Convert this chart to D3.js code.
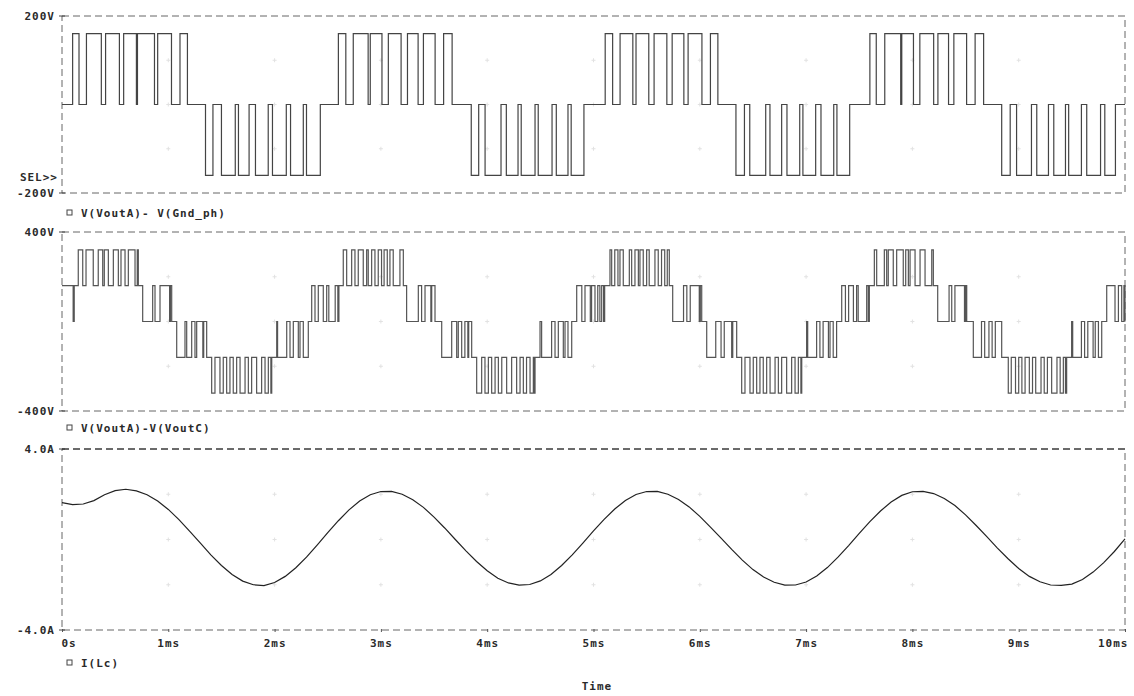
<!DOCTYPE html>
<html>
<head>
<meta charset="utf-8">
<script src="https://cdn.jsdelivr.net/npm/d3@7"></script>
<style>
body { margin: 0; background: #fff; }
text { font-family: "DejaVu Sans Mono", monospace; font-weight: bold; font-size: 11px; fill: #2a2a2a; letter-spacing: 1px; }
</style>
</head>
<body>
<svg id="chart" width="1134" height="696"></svg>
<script>
// time axis, ms
var timeTicks = [0, 1, 2, 3, 4, 5, 6, 7, 8, 9, 10];
var timeLabels = ["0s", "1ms", "2ms", "3ms", "4ms", "5ms", "6ms", "7ms", "8ms", "9ms", "10ms"];

// V(VoutA)- V(Gnd_ph): 0V between pulses, [start, end] ms
var phaseLevel = 160;
var phaseHighPulses = [
    [0.10, 0.16], [0.23, 0.37], [0.41, 0.54], [0.58, 0.70], [0.71, 0.87], [0.90, 1.03], [1.11, 1.18],
    [2.60, 2.67], [2.74, 2.88], [2.90, 3.01], [3.07, 3.19], [3.25, 3.35], [3.40, 3.51], [3.59, 3.67],
    [5.11, 5.18], [5.25, 5.37], [5.40, 5.52], [5.57, 5.69], [5.74, 5.85], [5.89, 6.02], [6.10, 6.17],
    [7.60, 7.66], [7.74, 7.89], [7.90, 8.01], [8.07, 8.20], [8.24, 8.34], [8.39, 8.51], [8.59, 8.67]
];
var phaseLowPulses = [
    [1.35, 1.42], [1.50, 1.63], [1.66, 1.76], [1.82, 1.94], [1.98, 2.11], [2.15, 2.27], [2.30, 2.43],
    [3.85, 3.92], [3.98, 4.13], [4.18, 4.29], [4.32, 4.45], [4.48, 4.61], [4.65, 4.76], [4.79, 4.91],
    [6.34, 6.42], [6.47, 6.62], [6.66, 6.77], [6.82, 6.94], [6.97, 7.09], [7.14, 7.26], [7.29, 7.41],
    [8.84, 8.92], [8.98, 9.12], [9.17, 9.28], [9.33, 9.44], [9.47, 9.59], [9.64, 9.77], [9.81, 9.91]
];

// V(VoutA)-V(VoutC): resting level [t, V] and pulses [t0, t1, V]
var lineSteps = [
    [0, 160], [1.032, 0], [1.361, -160], [2.317, 0], [2.57, 160],
    [3.509, 0], [3.854, -160], [4.795, 0], [5.077, 160],
    [6.018, 0], [6.347, -160], [7.287, 0], [7.57, 160],
    [8.511, 0], [8.840, -160], [9.781, 0]
];
var linePulses = [
    [0.105, 0.115, 0],
    [0.153, 0.195, 320], [0.226, 0.294, 320], [0.341, 0.383, 320], [0.398, 0.436, 320], [0.483, 0.530, 320],
    [0.555, 0.593, 320], [0.624, 0.687, 320], [0.708, 0.718, 320],
    [0.759, 0.853, 0], [0.875, 0.922, 0], [1.012, 1.020, 0],
    [1.079, 1.157, -160], [1.173, 1.220, -160], [1.251, 1.267, -160], [1.325, 1.333, -160],
    [1.408, 1.439, -320], [1.486, 1.517, -320], [1.549, 1.580, -320], [1.611, 1.643, -320], [1.675, 1.722, -320],
    [1.753, 1.784, -320], [1.831, 1.878, -320], [1.910, 1.941, -320], [1.965, 1.973, -320],
    [2.020, 2.028, 0], [2.114, 2.145, 0], [2.176, 2.223, 0], [2.239, 2.270, 0],
    [2.349, 2.380, 160], [2.411, 2.458, 160], [2.490, 2.510, 160],
    [2.595, 2.605, 0],
    [2.646, 2.678, 320], [2.725, 2.756, 320], [2.787, 2.834, 320], [2.866, 2.881, 320], [2.913, 2.944, 320],
    [2.975, 3.006, 320], [3.030, 3.060, 320], [3.085, 3.116, 320], [3.179, 3.211, 320],
    [3.242, 3.352, 0], [3.383, 3.415, 0], [3.470, 3.478, 0],
    [3.572, 3.666, -160], [3.713, 3.728, -160], [3.760, 3.790, -160], [3.818, 3.826, -160],
    [3.901, 3.948, -320], [3.979, 4.011, -320], [4.042, 4.074, -320], [4.105, 4.137, -320], [4.183, 4.230, -320],
    [4.277, 4.309, -320], [4.340, 4.370, -320], [4.403, 4.434, -320], [4.445, 4.450, -320],
    [4.497, 4.512, 0], [4.606, 4.638, 0], [4.669, 4.716, 0], [4.732, 4.760, 0],
    [4.842, 4.890, 160], [4.920, 4.970, 160], [4.982, 5.014, 160], [5.040, 5.060, 160],
    [5.095, 5.105, 0],
    [5.155, 5.171, 320], [5.200, 5.230, 320], [5.249, 5.280, 320], [5.337, 5.359, 320], [5.390, 5.422, 320],
    [5.437, 5.468, 320], [5.500, 5.524, 320], [5.578, 5.609, 320], [5.640, 5.670, 320], [5.694, 5.713, 320],
    [5.745, 5.847, 0], [5.878, 5.910, 0], [5.995, 6.005, 0],
    [6.065, 6.150, -160], [6.200, 6.230, -160], [6.300, 6.310, -160],
    [6.394, 6.425, -320], [6.472, 6.503, -320], [6.535, 6.566, -320], [6.597, 6.629, -320], [6.661, 6.708, -320],
    [6.739, 6.770, -320], [6.817, 6.864, -320], [6.896, 6.927, -320], [6.951, 6.959, -320],
    [7.005, 7.015, 0], [7.099, 7.130, 0], [7.160, 7.210, 0], [7.225, 7.255, 0],
    [7.335, 7.370, 160], [7.400, 7.445, 160], [7.475, 7.490, 160],
    [7.585, 7.595, 0],
    [7.642, 7.664, 320], [7.736, 7.758, 320], [7.773, 7.820, 320], [7.852, 7.914, 320], [7.937, 7.962, 320],
    [7.978, 8.025, 320], [8.072, 8.119, 320], [8.182, 8.197, 320],
    [8.238, 8.345, 0], [8.370, 8.400, 0], [8.490, 8.500, 0],
    [8.573, 8.650, -160], [8.680, 8.720, -160], [8.750, 8.780, -160],
    [8.902, 8.930, -320], [8.970, 9.000, -320], [9.030, 9.060, -320], [9.100, 9.130, -320], [9.160, 9.210, -320],
    [9.240, 9.270, -320], [9.310, 9.360, -320], [9.390, 9.420, -320], [9.440, 9.451, -320],
    [9.498, 9.508, 0], [9.590, 9.620, 0], [9.650, 9.700, 0], [9.720, 9.750, 0],
    [9.828, 9.906, 160], [9.938, 9.969, 160], [9.990, 10.0, 160]
];

// I(Lc), [t ms, A]
var currentPoints = [
    [0.0, 1.63], [0.1, 1.54], [0.2, 1.57], [0.3, 1.72], [0.4, 1.98], [0.5, 2.16], [0.6, 2.22], [0.7, 2.15],
    [0.8, 1.98], [0.9, 1.70], [1.0, 1.33], [1.1, 0.88], [1.2, 0.37], [1.3, -0.15], [1.4, -0.68], [1.5, -1.15],
    [1.6, -1.55], [1.7, -1.84], [1.8, -2.00], [1.9, -2.04], [2.0, -1.90], [2.1, -1.63], [2.2, -1.25], [2.3, -0.78],
    [2.4, -0.25], [2.5, 0.30], [2.6, 0.83], [2.7, 1.31], [2.8, 1.70], [2.9, 1.98], [3.0, 2.12], [3.1, 2.13],
    [3.2, 2.00], [3.3, 1.76], [3.4, 1.42], [3.5, 0.99], [3.6, 0.51], [3.7, 0.00], [3.8, -0.50], [3.9, -0.97],
    [4.0, -1.38], [4.1, -1.71], [4.2, -1.92], [4.3, -2.02], [4.4, -1.99], [4.5, -1.83], [4.6, -1.55], [4.7, -1.15],
    [4.8, -0.68], [4.9, -0.16], [5.0, 0.38], [5.1, 0.89], [5.2, 1.35], [5.3, 1.72], [5.4, 1.99], [5.5, 2.12],
    [5.6, 2.13], [5.7, 2.00], [5.8, 1.77], [5.9, 1.44], [6.0, 1.02], [6.1, 0.55], [6.2, 0.06], [6.3, -0.44],
    [6.4, -0.91], [6.5, -1.33], [6.6, -1.66], [6.7, -1.89], [6.8, -2.02], [6.9, -2.01], [7.0, -1.88], [7.1, -1.61],
    [7.2, -1.24], [7.3, -0.78], [7.4, -0.27], [7.5, 0.27], [7.6, 0.79], [7.7, 1.26], [7.8, 1.66], [7.9, 1.95],
    [8.0, 2.11], [8.1, 2.13], [8.2, 2.03], [8.3, 1.81], [8.4, 1.50], [8.5, 1.09], [8.6, 0.62], [8.7, 0.13],
    [8.8, -0.38], [8.9, -0.85], [9.0, -1.28], [9.1, -1.63], [9.2, -1.87], [9.3, -2.01], [9.4, -2.03], [9.5, -1.97],
    [9.6, -1.77], [9.7, -1.44], [9.8, -1.02], [9.9, -0.53], [10.0, 0.03]
];

var svg = d3.select("#chart");

var x = d3.scaleLinear().domain([0, 10]).range([62, 1125]);

var panels = [
    {top: 16, bottom: 193, max: 200, grid: [100, 0, -100], fmt: function(v) { return v + "V"; },
        legend: "V(VoutA)- V(Gnd_ph)", legendY: 213, frame: "#666"},
    {top: 232, bottom: 411, max: 400, grid: [200, 0, -200], fmt: function(v) { return v + "V"; },
        legend: "V(VoutA)-V(VoutC)", legendY: 428, frame: "#666"},
    {top: 449, bottom: 630, max: 4, grid: [2, 0, -2], fmt: function(v) { return v.toFixed(1) + "A"; },
        legend: "I(Lc)", legendY: 663, frame: "#666"}
];

panels.forEach(function(p) {
    p.y = d3.scaleLinear().domain([-p.max, p.max]).range([p.bottom, p.top]);
});

// build a step series from resting levels + pulses
function stepSeries(steps, pulses) {
    var times = steps.map(function(s) { return s[0]; });
    pulses.forEach(function(q) { times.push(q[0]); times.push(q[1]); });
    times.push(10);
    times = Array.from(new Set(times)).sort(function(a, b) { return a - b; });
    return times.map(function(t) {
        var v = 0;
        steps.forEach(function(s) { if (s[0] <= t) v = s[1]; });
        pulses.forEach(function(q) { if (t >= q[0] && t < q[1]) v = q[2]; });
        return [t, v];
    });
}

var phasePulses = phaseHighPulses.map(function(d) { return [d[0], d[1], phaseLevel]; })
    .concat(phaseLowPulses.map(function(d) { return [d[0], d[1], -phaseLevel]; }));
var phaseSeries = stepSeries([[0, 0]], phasePulses);
var lineSeries = stepSeries(lineSteps, linePulses);

// frames, grid marks, y labels, legends
panels.forEach(function(p, i) {
    var g = svg.append("g");

    timeTicks.slice(1, -1).forEach(function(t) {
        p.grid.forEach(function(v) {
            g.append("path")
                .attr("d", "M" + (x(t) - 2) + "," + p.y(v) + "h4M" + x(t) + "," + (p.y(v) - 2) + "v4")
                .attr("stroke", "#e2e2e2")
                .attr("stroke-width", 1);
        });
    });

    g.append("rect")
        .attr("x", x(0))
        .attr("y", p.top)
        .attr("width", x(10) - x(0))
        .attr("height", p.bottom - p.top)
        .attr("fill", "none")
        .attr("stroke", p.frame)
        .attr("stroke-width", 1)
        .attr("stroke-dasharray", "7,4");

    [p.max, -p.max].forEach(function(v) {
        g.append("text")
            .attr("x", 55)
            .attr("y", p.y(v) + 4)
            .attr("text-anchor", "end")
            .text(p.fmt(v));
        g.append("path")
            .attr("d", "M" + (x(0) - 3) + "," + p.y(v) + "h6")
            .attr("stroke", "#444");
    });

    g.append("rect")
        .attr("x", 67)
        .attr("y", p.legendY - 3)
        .attr("width", 5)
        .attr("height", 5)
        .attr("fill", "none")
        .attr("stroke", "#444");
    g.append("text")
        .attr("x", 81)
        .attr("y", p.legendY + 4)
        .text(p.legend);
});

// current panel top edge is drawn darker in the original
svg.append("line")
    .attr("x1", x(0)).attr("x2", x(10))
    .attr("y1", panels[2].top).attr("y2", panels[2].top)
    .attr("stroke", "#222")
    .attr("stroke-dasharray", "7,4");

svg.append("text")
    .attr("x", 58)
    .attr("y", 181)
    .attr("text-anchor", "end")
    .text("SEL>>");

// traces
var p1 = panels[0], p2 = panels[1], p3 = panels[2];

svg.append("path")
    .datum(phaseSeries)
    .attr("fill", "none")
    .attr("stroke", "#444")
    .attr("stroke-width", 1.2)
    .attr("d", d3.line().x(function(d) { return x(d[0]); }).y(function(d) { return p1.y(d[1]); }).curve(d3.curveStepAfter));

svg.append("path")
    .datum(lineSeries)
    .attr("fill", "none")
    .attr("stroke", "#555")
    .attr("stroke-width", 1.2)
    .attr("d", d3.line().x(function(d) { return x(d[0]); }).y(function(d) { return p2.y(d[1]); }).curve(d3.curveStepAfter));

svg.append("path")
    .datum(currentPoints)
    .attr("fill", "none")
    .attr("stroke", "#222")
    .attr("stroke-width", 1.2)
    .attr("d", d3.line().x(function(d) { return x(d[0]); }).y(function(d) { return p3.y(d[1]); }));

// time axis
var xAxis = d3.axisBottom(x)
    .tickValues(timeTicks)
    .tickSize(3)
    .tickFormat(function(d, i) { return timeLabels[i]; });

var axisG = svg.append("g")
    .attr("transform", "translate(0," + (p3.bottom - 1) + ")")
    .call(xAxis);
axisG.select(".domain").remove();
axisG.selectAll(".tick line").attr("stroke", "#555");
axisG.selectAll(".tick text")
    .attr("y", 10)
    .attr("dy", "0.71em")
    .attr("fill", null)
    .attr("font-family", null)
    .attr("font-size", null);
axisG.selectAll(".tick text").filter(function(d) { return d === 0; }).attr("text-anchor", "start").attr("dx", -1);
axisG.selectAll(".tick text").filter(function(d) { return d === 10; }).attr("text-anchor", "end").attr("dx", 3);

svg.append("text")
    .attr("x", 597)
    .attr("y", 690)
    .attr("text-anchor", "middle")
    .text("Time");
</script>
</body>
</html>
